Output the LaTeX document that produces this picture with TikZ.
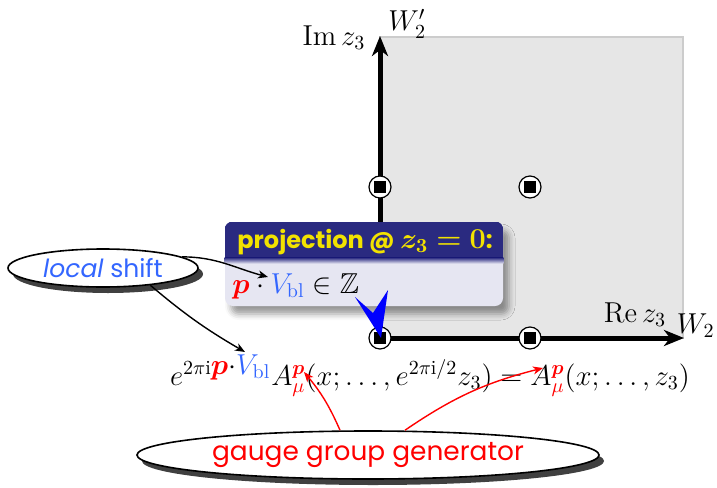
\documentclass[tikz,border=0pt]{standalone}
\usepackage{amsmath}
\usepackage{amssymb}
\usepackage{bm}
\usepackage{fontspec}
\setsansfont{Poppins}
\usetikzlibrary{positioning,shapes.geometric,shadows,shadows.blur,arrows.meta}
\definecolor{planegray}{HTML}{E6E6E6}
\definecolor{planeedge}{HTML}{CCCCCC}
\definecolor{boxnavy}{HTML}{2A2A80}
\definecolor{boxbody}{HTML}{E6E6F2}
\definecolor{titleyellow}{HTML}{F2E200}
\definecolor{shiftblue}{HTML}{3366FF}
\definecolor{pointblue}{HTML}{0000FF}

\begin{document}
\begin{tikzpicture}[x=0.5pt,y=-0.5pt,
  axis/.style={line width=2.5pt, -{Stealth[length=10pt,width=8pt,inset=3pt]}},
  fixpt/.style={circle, draw, line width=0.6pt, fill=white, minimum size=11pt, inner sep=0pt,
    path picture={\fill[black] ([shift={(-3pt,-3pt)}]path picture bounding box.center)
      rectangle ([shift={(3pt,3pt)}]path picture bounding box.center);}},
  callout/.style={ellipse, draw, line width=0.8pt, fill=white, inner sep=0pt,
    drop shadow={shadow xshift=2.5pt, shadow yshift=-3pt, fill=black!75, opacity=1}},
  pointer/.style={-{Stealth[length=5pt,width=4pt,inset=1.5pt]}, line width=0.7pt},
  projbox/.style={rectangle, rounded corners=4pt, fill=boxbody, inner sep=0pt,
    minimum width=139pt, minimum height=42pt,
    blur shadow={shadow xshift=3pt, shadow yshift=-4pt, shadow blur radius=3pt, shadow opacity=40}},
  lbl/.style={font=\Large, inner sep=0pt}
]
\useasboundingbox (0,0) rectangle (717,487);

% the fundamental domain
\fill[planegray, draw=planeedge, line width=0.7pt] (380,37) rectangle (683,338);
\coordinate (origin) at (380,338);
\coordinate (imtip) at (380,36);
\coordinate (retip) at (684,338);
\draw[axis] (origin) -- (imtip);
\draw[axis] (origin) -- (retip);

\node[lbl, anchor=base] (imlbl) at (334,45) {$\operatorname{Im} z_3$};
\node[lbl, anchor=base west] (wtwop) at (388,31) {$W_2'$};
\node[lbl, anchor=base] (relbl) at (635,322) {$\operatorname{Re} z_3$};
\node[lbl, anchor=base east] (wtwo) at (715,333) {$W_2$};

% fixed points
\node[fixpt] (fp00) at (380,338) {};
\node[fixpt] (fp10) at (530,338) {};
\node[fixpt] (fp01) at (380,187) {};
\node[fixpt] (fp11) at (530,187) {};

% projection box
\node[projbox] (proj) at (364,264) {};
\begin{scope}
  \clip[rounded corners=4pt] (proj.south west) rectangle (proj.north east);
  \fill[boxnavy] (proj.north west) rectangle ([yshift=-18pt]proj.north east);
  \shade[top color=boxnavy, bottom color=boxbody]
    ([yshift=-18pt]proj.north west) rectangle ([yshift=-21pt]proj.north east);
\end{scope}
\node[anchor=base west, inner sep=0pt, text=titleyellow,
  font=\sffamily\bfseries\fontsize{12}{15}\selectfont] (projtitle) at (237,248)
  {projection @ \mbox{\Large$\boldsymbol{z_3=0}$}:};
\node[lbl, anchor=base west] (projbody) at (232,293)
  {$\color{red}\boldsymbol{p}\color{black}\cdot{\color{shiftblue}V_{\mathrm{bl}}}\in\mathbb{Z}$};
\fill[pointblue] (355,297) -- (381,338) -- (388,290) -- (373,313) -- cycle;

% the boundary condition
\node[lbl, anchor=base] (bc) at (430,385)
  {$e^{2\pi\mathrm{i}\textstyle{\color{red}\boldsymbol{p}}{\cdot}{\color{shiftblue}V_{\mathrm{bl}}}}
    A_\mu^{\color{red}\boldsymbol{p}}(x;\ldots,e^{2\pi\mathrm{i}/2}z_3)
    = A_\mu^{\color{red}\boldsymbol{p}}(x;\ldots,z_3)$};
\coordinate (bodyV) at (268,277);
\coordinate (bcV) at (245,352);
\coordinate (bcpone) at (304,372);
\coordinate (bcptwo) at (543,368);

% callouts
\node[callout, text=shiftblue, font=\sffamily\fontsize{12.5}{15}\selectfont,
  minimum width=95pt, minimum height=19pt] (lshift) at (103,268) {\textit{local} shift};
\node[callout, text=red, font=\sffamily\fontsize{13.2}{16}\selectfont,
  minimum width=231pt, minimum height=24pt] (ggen) at (368,455) {gauge group generator};

\draw[pointer] (lshift.8) to[out=0, in=165] (bodyV);
\draw[pointer] (lshift.-20) to[bend right=5] (bcV);
\draw[pointer, red] ([xshift=-14pt]ggen.north) to[bend right=8] (bcpone);
\draw[pointer, red] ([xshift=18.5pt]ggen.north) to[bend left=10] (bcptwo);
\end{tikzpicture}
\end{document}
